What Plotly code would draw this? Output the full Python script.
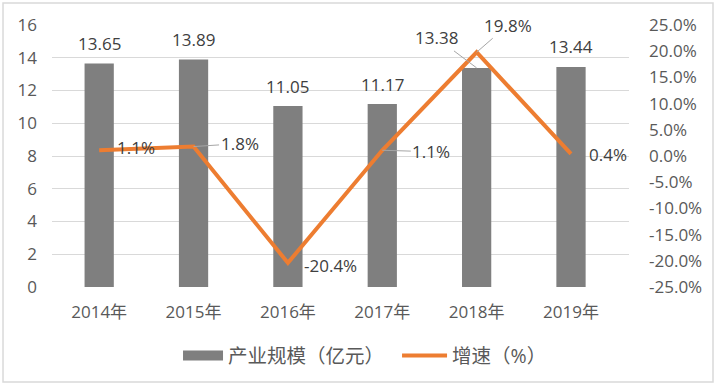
import plotly.graph_objects as go

years = ["2014年", "2015年", "2016年", "2017年", "2018年", "2019年"]
scale = [13.65, 13.89, 11.05, 11.17, 13.38, 13.44]
growth = [1.1, 1.8, -20.4, 1.1, 19.8, 0.4]
y_ticks = [0, 2, 4, 6, 8, 10, 12, 14, 16]
y2_ticks = [-25, -20, -15, -10, -5, 0, 5, 10, 15, 20, 25]

FONT = "Open Sans, Noto Sans CJK SC, sans-serif"
FS = 17
GRAY = "#7f7f7f"
ORANGE = "#ed7d31"
TXT = "#404040"
TICK = "#595959"

fig = go.Figure()
fig.add_trace(go.Bar(x=years, y=scale, name="产业规模（亿元）", marker_color=GRAY,
                     width=0.31, yaxis="y", showlegend=False))
# legend stand-in for the bar series (wide rectangle swatch)
fig.add_trace(go.Scatter(x=[None], y=[None], name="产业规模（亿元）", mode="lines",
                         line=dict(color=GRAY, width=12), yaxis="y", legend="legend"))
fig.add_trace(go.Scatter(x=years, y=growth, name="增速（%）", mode="lines",
                         line=dict(color=ORANGE, width=4), yaxis="y2", legend="legend2"))

# bar value labels (offsets are styling only)
bar_label_shift = {4: (-40, -30)}
for i, (yr, v) in enumerate(zip(years, scale)):
    if i in bar_label_shift:
        ax, ay = bar_label_shift[i]
        fig.add_annotation(x=yr, y=v, xref="x", yref="y", text=f"{v:.2f}",
                           showarrow=True, arrowhead=0, arrowwidth=1,
                           arrowcolor="#a6a6a6", ax=ax, ay=ay, standoff=0,
                           font=dict(family=FONT, size=FS, color=TXT))
    else:
        fig.add_annotation(x=yr, y=v, xref="x", yref="y", text=f"{v:.2f}",
                           showarrow=False, yshift=20,
                           font=dict(family=FONT, size=FS, color=TXT))

# growth labels: (dx, dy, leader)
line_label_pos = [(37, -3, False), (46, -3, True), (43, 3, False),
                  (49, 1.5, True), (31, -27, True), (37, 1, False)]
for yr, v, (dx, dy, lead) in zip(years, growth, line_label_pos):
    if lead:
        fig.add_annotation(x=yr, y=v, xref="x", yref="y2", text=f"{v:.1f}%",
                           showarrow=True, arrowhead=0, arrowwidth=1,
                           arrowcolor="#a6a6a6", ax=dx, ay=dy, standoff=0,
                           font=dict(family=FONT, size=FS, color=TXT))
    else:
        fig.add_annotation(x=yr, y=v, xref="x", yref="y2", text=f"{v:.1f}%",
                           showarrow=False, xshift=dx, yshift=-dy,
                           font=dict(family=FONT, size=FS, color=TXT))

legend_common = dict(orientation="h", y=-0.263, xanchor="left", yanchor="middle",
                     font=dict(family=FONT, size=19.5, color=TICK),
                     bgcolor="rgba(0,0,0,0)")

fig.update_layout(
    template="none",
    width=716, height=385,
    margin=dict(l=52, r=87, t=25, b=98, autoexpand=False),
    paper_bgcolor="white", plot_bgcolor="white",
    font=dict(family=FONT, size=FS, color=TICK),
    showlegend=True,
    legend=dict(x=0.2184, itemwidth=40, **legend_common),
    legend2=dict(x=0.598, itemwidth=45, **legend_common),
    xaxis=dict(showgrid=False, showline=False, zeroline=False, ticks="",
               automargin=False, ticklabelstandoff=13,
               tickfont=dict(size=FS, color=TICK)),
    yaxis=dict(range=[0, 16], tickvals=y_ticks, showgrid=True, gridcolor="#d9d9d9",
               gridwidth=1, zeroline=False, showline=False, ticks="",
               automargin=False, ticklabelstandoff=14,
               tickfont=dict(size=FS, color=TICK)),
    yaxis2=dict(range=[-25, 25], overlaying="y", side="right", tickvals=y2_ticks,
                ticktext=[f"{t:.1f}%" for t in y2_ticks], showgrid=False,
                zeroline=False, showline=False, ticks="", automargin=False,
                ticklabelstandoff=19, tickfont=dict(size=FS, color=TICK)),
    shapes=[dict(type="rect", xref="paper", yref="paper",
                 x0=-0.0849, x1=1.1456, y0=-0.3626, y1=1.084,
                 line=dict(color="#d9d9d9", width=1.5), layer="below")],
)

fig.write_html("out.html", config={"displayModeBar": False},
               post_script="document.body.style.margin='0';")
